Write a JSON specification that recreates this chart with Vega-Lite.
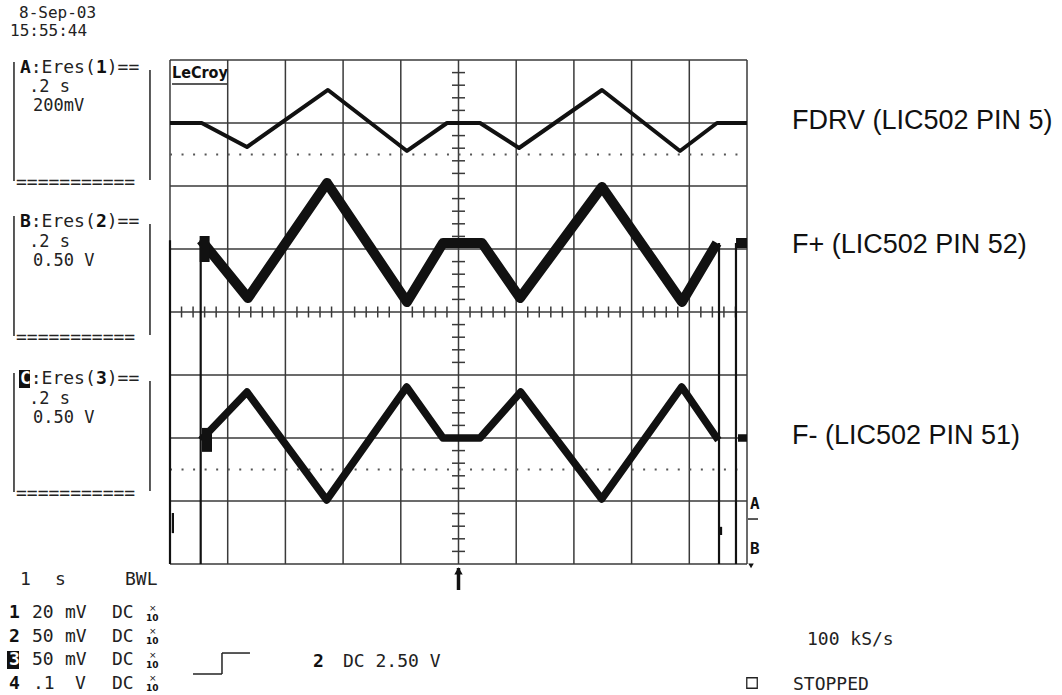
{
  "$schema": "https://vega.github.io/schema/vega-lite/v6.json",
  "width": 1062,
  "height": 695,
  "autosize": {"type": "none"},
  "padding": 0,
  "background": "white",
  "config": {"view": {"stroke": null}},
  "datasets": {
    "grid": [
      {"x": 0, "x2": 0, "y": -4, "y2": 4},
      {"x": 1, "x2": 1, "y": -4, "y2": 4},
      {"x": 2, "x2": 2, "y": -4, "y2": 4},
      {"x": 3, "x2": 3, "y": -4, "y2": 4},
      {"x": 4, "x2": 4, "y": -4, "y2": 4},
      {"x": 5, "x2": 5, "y": -4, "y2": 4},
      {"x": 6, "x2": 6, "y": -4, "y2": 4},
      {"x": 7, "x2": 7, "y": -4, "y2": 4},
      {"x": 8, "x2": 8, "y": -4, "y2": 4},
      {"x": 9, "x2": 9, "y": -4, "y2": 4},
      {"x": 10, "x2": 10, "y": -4, "y2": 4},
      {"x": 0, "x2": 10, "y": -4, "y2": -4},
      {"x": 0, "x2": 10, "y": -3, "y2": -3},
      {"x": 0, "x2": 10, "y": -2, "y2": -2},
      {"x": 0, "x2": 10, "y": -1, "y2": -1},
      {"x": 0, "x2": 10, "y": 0, "y2": 0},
      {"x": 0, "x2": 10, "y": 1, "y2": 1},
      {"x": 0, "x2": 10, "y": 2, "y2": 2},
      {"x": 0, "x2": 10, "y": 3, "y2": 3},
      {"x": 0, "x2": 10, "y": 4, "y2": 4}
    ],
    "ticks": [
      {"axis": "h", "x": 0.2, "y": 0}, {"axis": "h", "x": 0.4, "y": 0}, {"axis": "h", "x": 0.6, "y": 0}, {"axis": "h", "x": 0.8, "y": 0},
      {"axis": "h", "x": 1.2, "y": 0}, {"axis": "h", "x": 1.4, "y": 0}, {"axis": "h", "x": 1.6, "y": 0}, {"axis": "h", "x": 1.8, "y": 0},
      {"axis": "h", "x": 2.2, "y": 0}, {"axis": "h", "x": 2.4, "y": 0}, {"axis": "h", "x": 2.6, "y": 0}, {"axis": "h", "x": 2.8, "y": 0},
      {"axis": "h", "x": 3.2, "y": 0}, {"axis": "h", "x": 3.4, "y": 0}, {"axis": "h", "x": 3.6, "y": 0}, {"axis": "h", "x": 3.8, "y": 0},
      {"axis": "h", "x": 4.2, "y": 0}, {"axis": "h", "x": 4.4, "y": 0}, {"axis": "h", "x": 4.6, "y": 0}, {"axis": "h", "x": 4.8, "y": 0},
      {"axis": "h", "x": 5.2, "y": 0}, {"axis": "h", "x": 5.4, "y": 0}, {"axis": "h", "x": 5.6, "y": 0}, {"axis": "h", "x": 5.8, "y": 0},
      {"axis": "h", "x": 6.2, "y": 0}, {"axis": "h", "x": 6.4, "y": 0}, {"axis": "h", "x": 6.6, "y": 0}, {"axis": "h", "x": 6.8, "y": 0},
      {"axis": "h", "x": 7.2, "y": 0}, {"axis": "h", "x": 7.4, "y": 0}, {"axis": "h", "x": 7.6, "y": 0}, {"axis": "h", "x": 7.8, "y": 0},
      {"axis": "h", "x": 8.2, "y": 0}, {"axis": "h", "x": 8.4, "y": 0}, {"axis": "h", "x": 8.6, "y": 0}, {"axis": "h", "x": 8.8, "y": 0},
      {"axis": "h", "x": 9.2, "y": 0}, {"axis": "h", "x": 9.4, "y": 0}, {"axis": "h", "x": 9.6, "y": 0}, {"axis": "h", "x": 9.8, "y": 0},
      {"axis": "v", "x": 5, "y": -3.8}, {"axis": "v", "x": 5, "y": -3.6}, {"axis": "v", "x": 5, "y": -3.4}, {"axis": "v", "x": 5, "y": -3.2},
      {"axis": "v", "x": 5, "y": -2.8}, {"axis": "v", "x": 5, "y": -2.6}, {"axis": "v", "x": 5, "y": -2.4}, {"axis": "v", "x": 5, "y": -2.2},
      {"axis": "v", "x": 5, "y": -1.8}, {"axis": "v", "x": 5, "y": -1.6}, {"axis": "v", "x": 5, "y": -1.4}, {"axis": "v", "x": 5, "y": -1.2},
      {"axis": "v", "x": 5, "y": -0.8}, {"axis": "v", "x": 5, "y": -0.6}, {"axis": "v", "x": 5, "y": -0.4}, {"axis": "v", "x": 5, "y": -0.2},
      {"axis": "v", "x": 5, "y": 0.2}, {"axis": "v", "x": 5, "y": 0.4}, {"axis": "v", "x": 5, "y": 0.6}, {"axis": "v", "x": 5, "y": 0.8},
      {"axis": "v", "x": 5, "y": 1.2}, {"axis": "v", "x": 5, "y": 1.4}, {"axis": "v", "x": 5, "y": 1.6}, {"axis": "v", "x": 5, "y": 1.8},
      {"axis": "v", "x": 5, "y": 2.2}, {"axis": "v", "x": 5, "y": 2.4}, {"axis": "v", "x": 5, "y": 2.6}, {"axis": "v", "x": 5, "y": 2.8},
      {"axis": "v", "x": 5, "y": 3.2}, {"axis": "v", "x": 5, "y": 3.4}, {"axis": "v", "x": 5, "y": 3.6}, {"axis": "v", "x": 5, "y": 3.8}
    ],
    "dotted": [
      {"x": 0, "x2": 10, "y": 2.5},
      {"x": 0, "x2": 10, "y": -2.5}
    ],
    "strokes": [
      {"x": -2.704, "x2": -2.704, "y": 3.968, "y2": 2.079},
      {"x": -0.347, "x2": -0.347, "y": 3.841, "y2": 2.095},
      {"x": -2.704, "x2": -2.704, "y": 1.524, "y2": -0.381},
      {"x": -0.347, "x2": -0.347, "y": 1.397, "y2": -0.365},
      {"x": -2.704, "x2": -2.704, "y": -0.968, "y2": -2.857},
      {"x": -0.347, "x2": -0.347, "y": -1.095, "y2": -2.841},
      {"x": 0.035, "x2": 0.99, "y": 3.62, "y2": 3.62},
      {"x": 10.017, "x2": 10.191, "y": -3.286, "y2": -3.286},
      {"x": 0.399, "x2": 0.901, "y": -5.746, "y2": -5.746},
      {"x": 0.901, "x2": 0.901, "y": -5.746, "y2": -5.413},
      {"x": 0.901, "x2": 1.386, "y": -5.413, "y2": -5.413}
    ],
    "traces": [
      {"trace": "FDRV", "seg": "A1", "x": 0, "y": 3.0},
      {"trace": "FDRV", "seg": "A1", "x": 0.549, "y": 3.0},
      {"trace": "FDRV", "seg": "A1", "x": 1.334, "y": 2.619},
      {"trace": "FDRV", "seg": "A1", "x": 2.738, "y": 3.524},
      {"trace": "FDRV", "seg": "A1", "x": 4.107, "y": 2.556},
      {"trace": "FDRV", "seg": "A1", "x": 4.801, "y": 3.0},
      {"trace": "FDRV", "seg": "A1", "x": 5.373, "y": 3.0},
      {"trace": "FDRV", "seg": "A1", "x": 6.049, "y": 2.603},
      {"trace": "FDRV", "seg": "A1", "x": 7.487, "y": 3.524},
      {"trace": "FDRV", "seg": "A1", "x": 8.839, "y": 2.556},
      {"trace": "FDRV", "seg": "A1", "x": 9.48, "y": 3.0},
      {"trace": "FDRV", "seg": "A1", "x": 10, "y": 3.0},
      {"trace": "F+", "seg": "B1", "x": 0.537, "y": 1.143},
      {"trace": "F+", "seg": "B1", "x": 1.352, "y": 0.222},
      {"trace": "F+", "seg": "B1", "x": 2.721, "y": 2.048},
      {"trace": "F+", "seg": "B1", "x": 4.107, "y": 0.159},
      {"trace": "F+", "seg": "B1", "x": 4.731, "y": 1.095},
      {"trace": "F+", "seg": "B1", "x": 5.407, "y": 1.095},
      {"trace": "F+", "seg": "B1", "x": 6.066, "y": 0.222},
      {"trace": "F+", "seg": "B1", "x": 7.487, "y": 1.984},
      {"trace": "F+", "seg": "B1", "x": 8.873, "y": 0.159},
      {"trace": "F+", "seg": "B1", "x": 9.48, "y": 1.095},
      {"trace": "F+", "seg": "B2", "x": 9.81, "y": 1.095},
      {"trace": "F+", "seg": "B2", "x": 10, "y": 1.095},
      {"trace": "F-", "seg": "C1", "x": 0.537, "y": -2.032},
      {"trace": "F-", "seg": "C1", "x": 1.334, "y": -1.27},
      {"trace": "F-", "seg": "C1", "x": 2.715, "y": -2.984},
      {"trace": "F-", "seg": "C1", "x": 4.102, "y": -1.19},
      {"trace": "F-", "seg": "C1", "x": 4.731, "y": -2.0},
      {"trace": "F-", "seg": "C1", "x": 5.373, "y": -2.0},
      {"trace": "F-", "seg": "C1", "x": 6.078, "y": -1.27},
      {"trace": "F-", "seg": "C1", "x": 7.481, "y": -2.968},
      {"trace": "F-", "seg": "C1", "x": 8.868, "y": -1.19},
      {"trace": "F-", "seg": "C1", "x": 9.503, "y": -2.032},
      {"trace": "F-", "seg": "C2", "x": 9.844, "y": -2.0},
      {"trace": "F-", "seg": "C2", "x": 10, "y": -2.0}
    ],
    "spikes": [
      {"kind": "edge", "x": 0, "y": 1.14, "y2": -4},
      {"kind": "edge", "x": 0.532, "y": 1.143, "y2": -4},
      {"kind": "edge", "x": 9.515, "y": 1.095, "y2": -4},
      {"kind": "edge", "x": 9.809, "y": 1.095, "y2": -4},
      {"kind": "edge", "x": 0.05, "y": -3.19, "y2": -3.51},
      {"kind": "edge", "x": 9.55, "y": -3.41, "y2": -3.54},
      {"kind": "blob", "x": 0.6, "y": 1.206, "y2": 0.794},
      {"kind": "blob", "x": 0.641, "y": -1.84, "y2": -2.22},
      {"kind": "arrow", "x": 5, "y": -4.063, "y2": -4.413}
    ],
    "marks": [
      {"kind": "arrowhead", "x": 5, "y": -4.11},
      {"kind": "box", "x": 10.087, "y": -5.889},
      {"kind": "flag", "x": 10.07, "y": -4.03}
    ],
    "inverse": [
      {"x": -2.617, "x2": -2.426, "y": -0.921, "y2": -1.206},
      {"x": -2.825, "x2": -2.617, "y": -5.381, "y2": -5.667}
    ],
    "labels": [
      {"text": "8-Sep-03", "x": -2.617, "y": 4.746, "role": "d"},
      {"text": "15:55:44", "x": -2.773, "y": 4.46, "role": "d"},
      {"text": "A", "x": -2.6, "y": 3.873, "role": "mb"},
      {"text": ":Eres(", "x": -2.413, "y": 3.873, "role": "m"},
      {"text": "1", "x": -1.284, "y": 3.873, "role": "mb"},
      {"text": ")==", "x": -1.097, "y": 3.873, "role": "m"},
      {"text": ".2 s", "x": -2.444, "y": 3.571, "role": "m2"},
      {"text": "200mV", "x": -2.374, "y": 3.27, "role": "m2"},
      {"text": "===========", "x": -2.669, "y": 2.048, "role": "m"},
      {"text": "B", "x": -2.6, "y": 1.429, "role": "mb"},
      {"text": ":Eres(", "x": -2.413, "y": 1.429, "role": "m"},
      {"text": "2", "x": -1.284, "y": 1.429, "role": "mb"},
      {"text": ")==", "x": -1.097, "y": 1.429, "role": "m"},
      {"text": ".2 s", "x": -2.444, "y": 1.111, "role": "m2"},
      {"text": "0.50 V", "x": -2.374, "y": 0.81, "role": "m2"},
      {"text": "===========", "x": -2.669, "y": -0.413, "role": "m"},
      {"text": "C", "x": -2.6, "y": -1.063, "role": "mi"},
      {"text": ":Eres(", "x": -2.413, "y": -1.063, "role": "m"},
      {"text": "3", "x": -1.284, "y": -1.063, "role": "mb"},
      {"text": ")==", "x": -1.097, "y": -1.063, "role": "m"},
      {"text": ".2 s", "x": -2.444, "y": -1.381, "role": "m2"},
      {"text": "0.50 V", "x": -2.374, "y": -1.683, "role": "m2"},
      {"text": "===========", "x": -2.669, "y": -2.889, "role": "m"},
      {"text": "LeCroy", "x": 0.035, "y": 3.8, "role": "logo"},
      {"text": "FDRV (LIC502 PIN 5)", "x": 10.78, "y": 3.032, "role": "sans"},
      {"text": "F+ (LIC502 PIN 52)", "x": 10.78, "y": 1.063, "role": "sans"},
      {"text": "F- (LIC502 PIN 51)", "x": 10.78, "y": -1.968, "role": "sans"},
      {"text": "A", "x": 10.052, "y": -3.048, "role": "mk"},
      {"text": "B", "x": 10.052, "y": -3.762, "role": "mk"},
      {"text": "1", "x": -2.6, "y": -4.254, "role": "m"},
      {"text": "s", "x": -1.993, "y": -4.254, "role": "m"},
      {"text": "BWL", "x": -0.78, "y": -4.254, "role": "m"},
      {"text": "1", "x": -2.79, "y": -4.778, "role": "mb"},
      {"text": "20", "x": -2.392, "y": -4.778, "role": "m"},
      {"text": "mV", "x": -1.82, "y": -4.778, "role": "m"},
      {"text": "DC", "x": -1.005, "y": -4.778, "role": "m"},
      {"text": "×", "x": -0.364, "y": -4.698, "role": "tinyx"},
      {"text": "10", "x": -0.416, "y": -4.857, "role": "tiny"},
      {"text": "2", "x": -2.79, "y": -5.151, "role": "mb"},
      {"text": "50", "x": -2.392, "y": -5.151, "role": "m"},
      {"text": "mV", "x": -1.82, "y": -5.151, "role": "m"},
      {"text": "DC", "x": -1.005, "y": -5.151, "role": "m"},
      {"text": "×", "x": -0.364, "y": -5.071, "role": "tinyx"},
      {"text": "10", "x": -0.416, "y": -5.23, "role": "tiny"},
      {"text": "3", "x": -2.79, "y": -5.524, "role": "mi"},
      {"text": "50", "x": -2.392, "y": -5.524, "role": "m"},
      {"text": "mV", "x": -1.82, "y": -5.524, "role": "m"},
      {"text": "DC", "x": -1.005, "y": -5.524, "role": "m"},
      {"text": "×", "x": -0.364, "y": -5.444, "role": "tinyx"},
      {"text": "10", "x": -0.416, "y": -5.603, "role": "tiny"},
      {"text": "4", "x": -2.79, "y": -5.897, "role": "mb"},
      {"text": ".1", "x": -2.374, "y": -5.897, "role": "m"},
      {"text": "V", "x": -1.646, "y": -5.897, "role": "m"},
      {"text": "DC", "x": -1.005, "y": -5.897, "role": "m"},
      {"text": "×", "x": -0.364, "y": -5.817, "role": "tinyx"},
      {"text": "10", "x": -0.416, "y": -5.976, "role": "tiny"},
      {"text": "2", "x": 2.478, "y": -5.556, "role": "mb"},
      {"text": "DC 2.50 V", "x": 2.998, "y": -5.556, "role": "m"},
      {"text": "100 kS/s", "x": 11.04, "y": -5.206, "role": "m"},
      {"text": "STOPPED", "x": 10.797, "y": -5.921, "role": "m"}
    ]
  },
  "encoding": {
    "x": {"field": "x", "type": "quantitative", "scale": {"domain": [-2.94627, 15.45927], "nice": false, "zero": false}, "axis": null},
    "y": {"field": "y", "type": "quantitative", "scale": {"domain": [-6.07937, 4.95238], "nice": false, "zero": false}, "axis": null}
  },
  "layer": [
    {
      "data": {"name": "grid"},
      "mark": {"type": "rule", "stroke": "#3a3a3a", "strokeWidth": 1.5},
      "encoding": {"x2": {"field": "x2"}, "y2": {"field": "y2"}}
    },
    {
      "data": {"name": "ticks"},
      "transform": [{"filter": "datum.axis === 'h'"}],
      "mark": {"type": "tick", "orient": "vertical", "size": 11, "thickness": 1.5, "color": "#3a3a3a", "opacity": 1}
    },
    {
      "data": {"name": "ticks"},
      "transform": [{"filter": "datum.axis === 'v'"}],
      "mark": {"type": "tick", "orient": "horizontal", "size": 13, "thickness": 1.5, "color": "#3a3a3a", "opacity": 1}
    },
    {
      "data": {"name": "dotted"},
      "mark": {"type": "rule", "stroke": "#555555", "strokeWidth": 1.8, "strokeDash": [2, 9.54]},
      "encoding": {"x2": {"field": "x2"}}
    },
    {
      "data": {"name": "strokes"},
      "mark": {"type": "rule", "stroke": "#222222", "strokeWidth": 1.5},
      "encoding": {"x2": {"field": "x2"}, "y2": {"field": "y2"}}
    },
    {
      "data": {"name": "traces"},
      "transform": [{"filter": "datum.trace === 'FDRV'"}],
      "mark": {"type": "line", "stroke": "#111111", "strokeWidth": 4, "strokeJoin": "round"},
      "encoding": {"detail": {"field": "seg"}}
    },
    {
      "data": {"name": "traces"},
      "transform": [{"filter": "datum.trace === 'F+'"}],
      "mark": {"type": "line", "stroke": "#111111", "strokeWidth": 10, "strokeJoin": "round"},
      "encoding": {"detail": {"field": "seg"}}
    },
    {
      "data": {"name": "traces"},
      "transform": [{"filter": "datum.trace === 'F-'"}],
      "mark": {"type": "line", "stroke": "#111111", "strokeWidth": 7.5, "strokeJoin": "round"},
      "encoding": {"detail": {"field": "seg"}}
    },
    {
      "data": {"name": "spikes"},
      "transform": [{"filter": "datum.kind === 'edge'"}],
      "mark": {"type": "rule", "stroke": "#111111", "strokeWidth": 2.2},
      "encoding": {"y2": {"field": "y2"}}
    },
    {
      "data": {"name": "spikes"},
      "transform": [{"filter": "datum.kind === 'blob'"}],
      "mark": {"type": "rule", "stroke": "#111111", "strokeWidth": 10},
      "encoding": {"y2": {"field": "y2"}}
    },
    {
      "data": {"name": "spikes"},
      "transform": [{"filter": "datum.kind === 'arrow'"}],
      "mark": {"type": "rule", "stroke": "#111111", "strokeWidth": 3.5},
      "encoding": {"y2": {"field": "y2"}}
    },
    {
      "data": {"name": "marks"},
      "transform": [{"filter": "datum.kind === 'arrowhead'"}],
      "mark": {"type": "point", "shape": "triangle-up", "filled": true, "color": "#111111", "size": 70, "opacity": 1}
    },
    {
      "data": {"name": "marks"},
      "transform": [{"filter": "datum.kind === 'flag'"}],
      "mark": {"type": "point", "shape": "triangle-down", "filled": true, "color": "#111111", "size": 30, "opacity": 1}
    },
    {
      "data": {"name": "marks"},
      "transform": [{"filter": "datum.kind === 'box'"}],
      "mark": {"type": "point", "shape": "square", "filled": false, "stroke": "#222222", "strokeWidth": 1.3, "size": 110, "opacity": 1}
    },
    {
      "data": {"name": "inverse"},
      "mark": {"type": "rect", "color": "#111111"},
      "encoding": {"x2": {"field": "x2"}, "y2": {"field": "y2"}}
    },
    {
      "data": {"name": "labels"},
      "transform": [{"filter": "datum.role === 'm'"}],
      "mark": {"type": "text", "align": "left", "baseline": "middle", "font": "DejaVu Sans Mono", "fontSize": 18, "color": "#222222"},
      "encoding": {"text": {"field": "text"}}
    },
    {
      "data": {"name": "labels"},
      "transform": [{"filter": "datum.role === 'm2'"}],
      "mark": {"type": "text", "align": "left", "baseline": "middle", "font": "DejaVu Sans Mono", "fontSize": 17, "color": "#222222"},
      "encoding": {"text": {"field": "text"}}
    },
    {
      "data": {"name": "labels"},
      "transform": [{"filter": "datum.role === 'd'"}],
      "mark": {"type": "text", "align": "left", "baseline": "middle", "font": "DejaVu Sans Mono", "fontSize": 16, "color": "#222222"},
      "encoding": {"text": {"field": "text"}}
    },
    {
      "data": {"name": "labels"},
      "transform": [{"filter": "datum.role === 'mb'"}],
      "mark": {"type": "text", "align": "left", "baseline": "middle", "font": "DejaVu Sans Mono", "fontSize": 18, "fontWeight": "bold", "color": "#111111"},
      "encoding": {"text": {"field": "text"}}
    },
    {
      "data": {"name": "labels"},
      "transform": [{"filter": "datum.role === 'mi'"}],
      "mark": {"type": "text", "align": "left", "baseline": "middle", "font": "DejaVu Sans Mono", "fontSize": 18, "fontWeight": "bold", "color": "#ffffff"},
      "encoding": {"text": {"field": "text"}}
    },
    {
      "data": {"name": "labels"},
      "transform": [{"filter": "datum.role === 'mk'"}],
      "mark": {"type": "text", "align": "left", "baseline": "middle", "font": "DejaVu Sans Mono", "fontSize": 16, "fontWeight": "bold", "color": "#111111"},
      "encoding": {"text": {"field": "text"}}
    },
    {
      "data": {"name": "labels"},
      "transform": [{"filter": "datum.role === 'tiny'"}],
      "mark": {"type": "text", "align": "left", "baseline": "middle", "font": "DejaVu Sans", "fontSize": 9, "fontWeight": "bold", "color": "#111111"},
      "encoding": {"text": {"field": "text"}}
    },
    {
      "data": {"name": "labels"},
      "transform": [{"filter": "datum.role === 'tinyx'"}],
      "mark": {"type": "text", "align": "left", "baseline": "middle", "font": "DejaVu Sans", "fontSize": 9, "color": "#111111"},
      "encoding": {"text": {"field": "text"}}
    },
    {
      "data": {"name": "labels"},
      "transform": [{"filter": "datum.role === 'logo'"}],
      "mark": {"type": "text", "align": "left", "baseline": "middle", "font": "DejaVu Sans Condensed", "fontSize": 16, "fontWeight": "bold", "color": "#111111"},
      "encoding": {"text": {"field": "text"}}
    },
    {
      "data": {"name": "labels"},
      "transform": [{"filter": "datum.role === 'sans'"}],
      "mark": {"type": "text", "align": "left", "baseline": "middle", "font": "Liberation Sans", "fontSize": 27, "color": "#111111"},
      "encoding": {"text": {"field": "text"}}
    }
  ]
}
